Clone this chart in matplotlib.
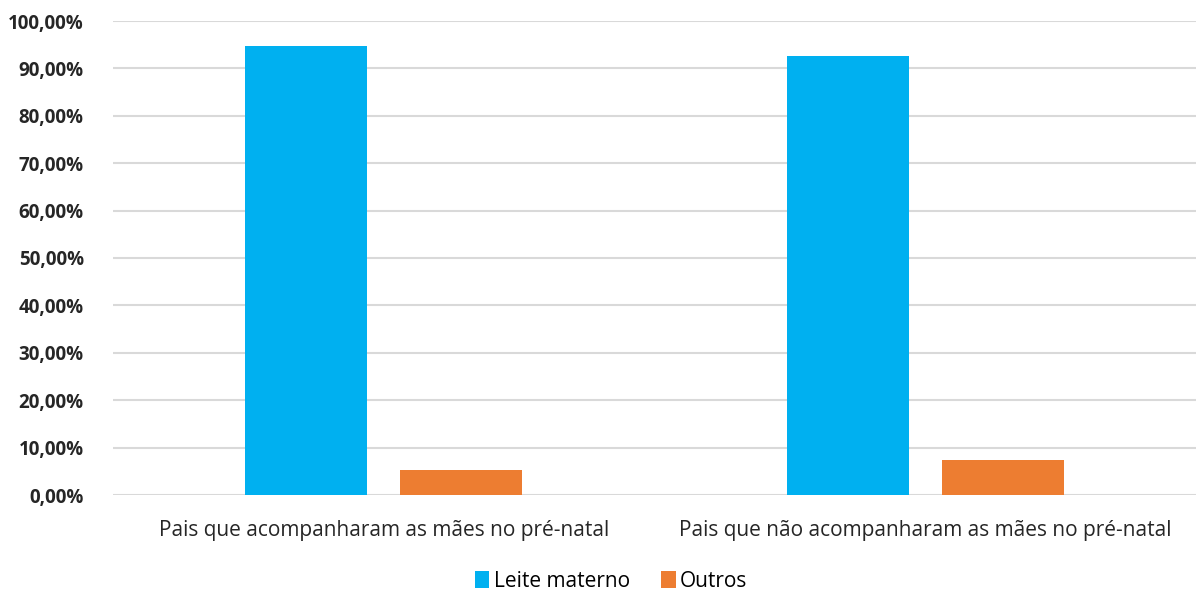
import numpy as np
import matplotlib.pyplot as plt
from matplotlib.ticker import FuncFormatter

categories = ["Pais que acompanharam as mães no pré-natal",
              "Pais que não acompanharam as mães no pré-natal"]
leite = [94.7, 92.7]
outros = [5.3, 7.3]
series_names = ["Leite materno", "Outros"]

plt.rcParams['font.family'] = ['Open Sans', 'DejaVu Sans']

fig = plt.figure(figsize=(11.98, 5.91), dpi=100)
ax = fig.add_axes([113/1198, 1 - 495/591, 1 - 113/1198 - 2/1198, (495 - 21)/591])

x = np.arange(len(categories))
w = 0.225
ax.bar(x - 0.143, leite, w, color="#00B0F0", label=series_names[0], zorder=3)
ax.bar(x + 0.143, outros, w, color="#ED7D31", label=series_names[1], zorder=3)

ax.set_xlim(-0.5, 1.5)
ax.set_ylim(0, 100)
ax.set_yticks(np.arange(0, 101, 10))
ax.yaxis.set_major_formatter(FuncFormatter(lambda v, p: f"{v:.2f}%".replace(".", ",")))
ax.set_xticks(x, categories)
ax.grid(axis="y", color="#d9d9d9", linewidth=1.5, zorder=0)
for s in ax.spines.values():
    s.set_visible(False)
ax.tick_params(axis="both", length=0)
ax.tick_params(axis="y", labelsize=13.5, labelcolor="#262626", pad=21)
ax.tick_params(axis="x", labelsize=15, labelcolor="#262626", pad=18)
for t in ax.get_yticklabels():
    t.set_fontweight("bold")

fig.legend(loc="lower center", bbox_to_anchor=(0.51, -0.033), ncol=2, frameon=False,
           fontsize=15, handlelength=0.7, handleheight=0.9, columnspacing=1.5,
           handletextpad=0.2)

fig.savefig("out.png", dpi=100)
